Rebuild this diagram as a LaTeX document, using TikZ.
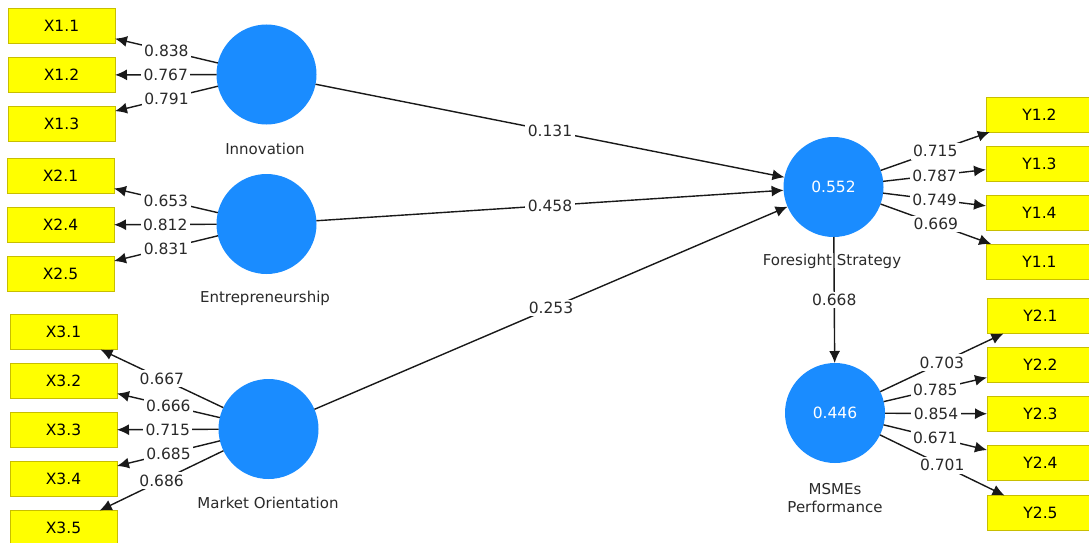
\documentclass[tikz,border=0pt]{standalone}
\usepackage{fontspec}
\setmainfont{DejaVu Sans}
\usetikzlibrary{arrows.meta}
\definecolor{lvblue}{HTML}{1A8CFF}
\definecolor{mvyellow}{HTML}{FFFF00}
\definecolor{mvborder}{HTML}{C8BE00}
\definecolor{txtgray}{HTML}{2A2A2A}
\begin{document}
\begin{tikzpicture}[x=1pt,y=-1pt,
  lv/.style={circle, fill=lvblue, minimum size=100pt, inner sep=0pt, outer sep=0pt, text=white, font=\fontsize{15.5}{18}\selectfont},
  mv/.style={rectangle, fill=mvyellow, draw=mvborder, line width=0.8pt, minimum width=107pt, minimum height=35pt, inner sep=0pt, outer sep=0pt, text=black, font=\fontsize{15.5}{18}\selectfont},
  link/.style={-{Latex[length=12pt,width=11pt]}, line width=1.4pt, color=black!90},
  wt/.style={fill=white, inner sep=2.5pt, text=txtgray, font=\fontsize{15.5}{18}\selectfont},
  lvcaption/.style={text=txtgray, align=center, font=\fontsize{15}{17.5}\selectfont}]
\useasboundingbox (0,0) rectangle (1089,543);
\clip (0,0) rectangle (1089,543);
\fill[white] (0,0) rectangle (1089,543);

% latent variables
\node[lv] (inn) at (266.5,74.5) {};
\node[lv] (ent) at (266.5,224) {};
\node[lv] (mko) at (268.5,429) {};
\node[lv] (fs) at (833.5,187) {0.552};
\node[lv] (msme) at (835,413) {0.446};

% captions
\node[lvcaption] (cinn) at (265,149) {Innovation};
\node[lvcaption] (cent) at (265,298) {Entrepreneurship};
\node[lvcaption] (cmko) at (268,503) {Market Orientation};
\node[lvcaption] (cfs) at (832,261) {Foresight Strategy};
\node[lvcaption] (cmsme) at (835,498) {MSMEs\\Performance};

% indicators
\node[mv] (x11) at (61.5,26) {X1.1};
\node[mv] (x12) at (61.5,75) {X1.2};
\node[mv] (x13) at (61.5,124) {X1.3};
\node[mv] (x21) at (60.5,176) {X2.1};
\node[mv] (x24) at (60.5,225) {X2.4};
\node[mv] (x25) at (60.5,274) {X2.5};
\node[mv] (x31) at (63.5,332) {X3.1};
\node[mv] (x32) at (63.5,381) {X3.2};
\node[mv] (x33) at (63.5,430) {X3.3};
\node[mv] (x34) at (63.5,479) {X3.4};
\node[mv] (x35) at (63.5,528) {X3.5};
\node[mv] (y12) at (1039.5,114.5) {Y1.2};
\node[mv] (y13) at (1039.5,163.5) {Y1.3};
\node[mv] (y14) at (1039.5,212.5) {Y1.4};
\node[mv] (y11) at (1039.5,261.5) {Y1.1};
\node[mv] (y21) at (1040.5,316) {Y2.1};
\node[mv] (y22) at (1040.5,365) {Y2.2};
\node[mv] (y23) at (1040.5,414) {Y2.3};
\node[mv] (y24) at (1040.5,463) {Y2.4};
\node[mv] (y25) at (1040.5,513) {Y2.5};

% outer loadings
\draw[link] (inn) -- node[wt] {0.838} (x11);
\draw[link] (inn) -- node[wt] {0.767} (x12);
\draw[link] (inn) -- node[wt] {0.791} (x13);
\draw[link] (ent) -- node[wt] {0.653} (x21);
\draw[link] (ent) -- node[wt] {0.812} (x24);
\draw[link] (ent) -- node[wt] {0.831} (x25);
\draw[link] (mko) -- node[wt] {0.667} (x31);
\draw[link] (mko) -- node[wt] {0.666} (x32);
\draw[link] (mko) -- node[wt] {0.715} (x33);
\draw[link] (mko) -- node[wt] {0.685} (x34);
\draw[link] (mko) -- node[wt] {0.686} (x35);
\draw[link] (fs) -- node[wt] {0.715} (y12);
\draw[link] (fs) -- node[wt] {0.787} (y13);
\draw[link] (fs) -- node[wt] {0.749} (y14);
\draw[link] (fs) -- node[wt] {0.669} (y11);
\draw[link] (msme) -- node[wt] {0.703} (y21);
\draw[link] (msme) -- node[wt] {0.785} (y22);
\draw[link] (msme) -- node[wt] {0.854} (y23);
\draw[link] (msme) -- node[wt] {0.671} (y24);
\draw[link] (msme) -- node[wt] {0.701} (y25);

% structural paths
\draw[link] (inn) -- node[wt] {0.131} (fs);
\draw[link] (ent) -- node[wt] {0.458} (fs);
\draw[link] (mko) -- node[wt] {0.253} (fs);
\draw[link] (fs) -- node[wt] {0.668} (msme);
\end{tikzpicture}
\end{document}
